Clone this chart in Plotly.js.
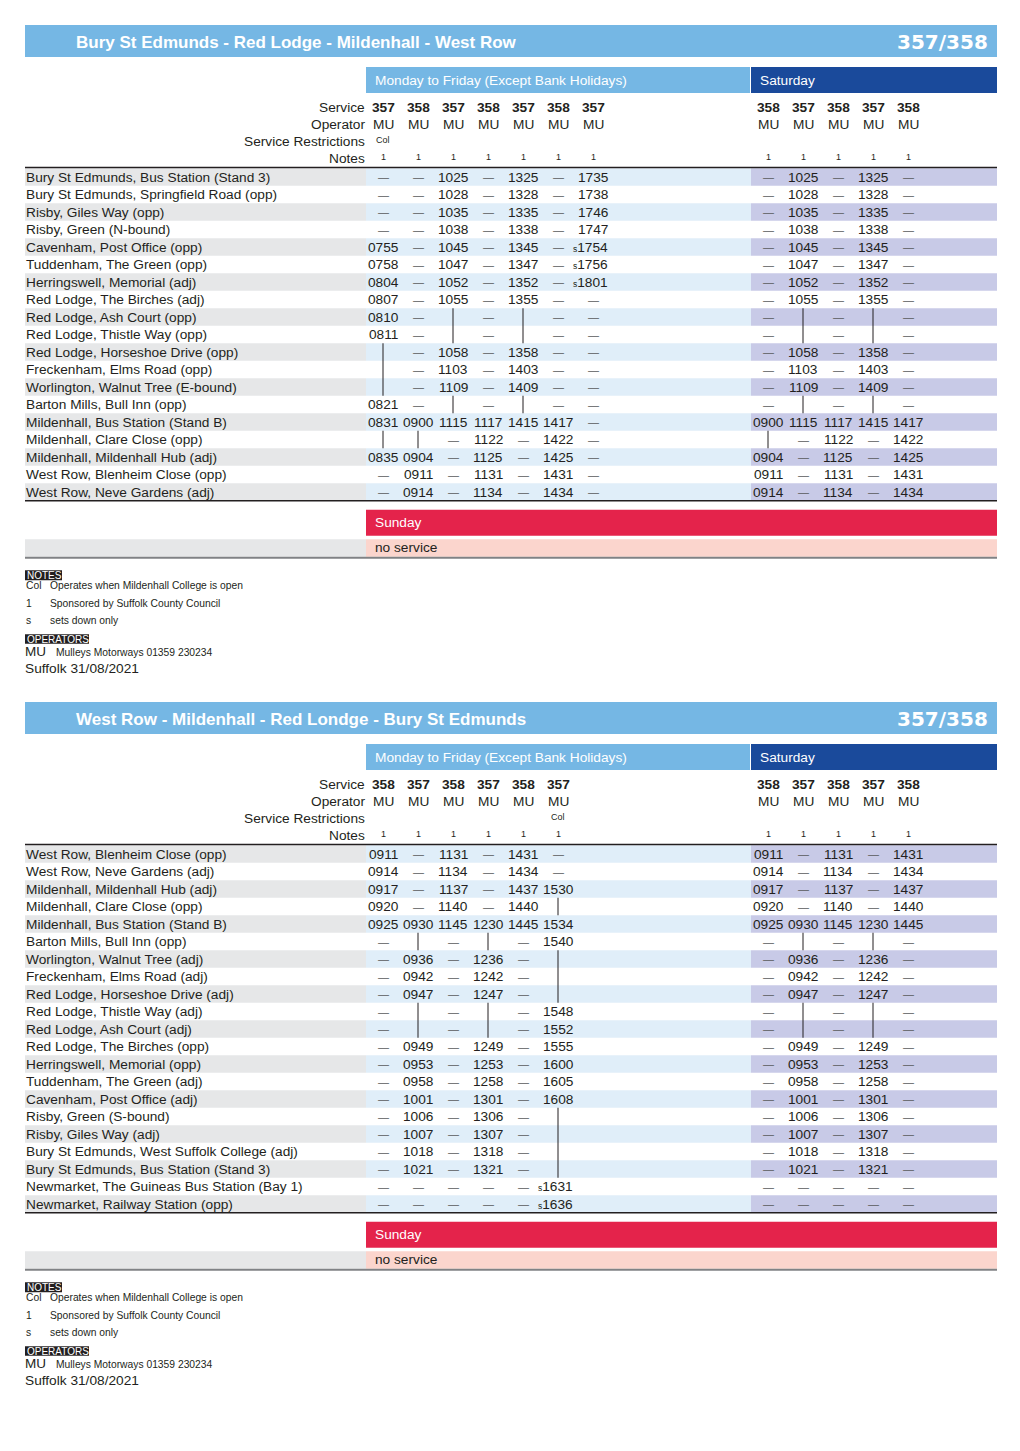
<!DOCTYPE html>
<html>
<head>
<meta charset="utf-8">
<script src="https://cdn.plot.ly/plotly-3.0.1.min.js"></script>
<style>html,body{margin:0;padding:0;background:#fff}</style>
</head>
<body>
<div id="tt" style="width:1020px;height:1451px"></div>
<script>
// ---- timetable data ----
const ROUTE = '357/358';
const DAY_MF = 'Monday to Friday (Except Bank Holidays)';
const DAY_SAT = 'Saturday';
const DAY_SUN = 'Sunday';
const SUN_TEXT = 'no service';
const HEAD_LABELS = ['Service', 'Operator', 'Service Restrictions', 'Notes'];

const outTitle = 'Bury St Edmunds - Red Lodge - Mildenhall - West Row';
const outStops = [
  'Bury St Edmunds, Bus Station (Stand 3)',
  'Bury St Edmunds, Springfield Road (opp)',
  'Risby, Giles Way (opp)',
  'Risby, Green (N-bound)',
  'Cavenham, Post Office (opp)',
  'Tuddenham, The Green (opp)',
  'Herringswell, Memorial (adj)',
  'Red Lodge, The Birches (adj)',
  'Red Lodge, Ash Court (opp)',
  'Red Lodge, Thistle Way (opp)',
  'Red Lodge, Horseshoe Drive (opp)',
  'Freckenham, Elms Road (opp)',
  'Worlington, Walnut Tree (E-bound)',
  'Barton Mills, Bull Inn (opp)',
  'Mildenhall, Bus Station (Stand B)',
  'Mildenhall, Clare Close (opp)',
  'Mildenhall, Mildenhall Hub (adj)',
  'West Row, Blenheim Close (opp)',
  'West Row, Neve Gardens (adj)'
];
const outMFService = ['357', '358', '357', '358', '357', '358', '357'];
const outMFOperator = ['MU', 'MU', 'MU', 'MU', 'MU', 'MU', 'MU'];
const outMFRestrict = ['Col', '', '', '', '', '', ''];
const outMFNotes = ['1', '1', '1', '1', '1', '1', '1'];
// '-' = does not serve, '|' = passes without stopping, 's' prefix = sets down only
const outMFTimes = [
  ['-', '-', '-', '-', '0755', '0758', '0804', '0807', '0810', '0811', '|', '|', '|', '0821', '0831', '|', '0835', '-', '-'],
  ['-', '-', '-', '-', '-', '-', '-', '-', '-', '-', '-', '-', '-', '-', '0900', '|', '0904', '0911', '0914'],
  ['1025', '1028', '1035', '1038', '1045', '1047', '1052', '1055', '|', '|', '1058', '1103', '1109', '|', '1115', '-', '-', '-', '-'],
  ['-', '-', '-', '-', '-', '-', '-', '-', '-', '-', '-', '-', '-', '-', '1117', '1122', '1125', '1131', '1134'],
  ['1325', '1328', '1335', '1338', '1345', '1347', '1352', '1355', '|', '|', '1358', '1403', '1409', '|', '1415', '-', '-', '-', '-'],
  ['-', '-', '-', '-', '-', '-', '-', '-', '-', '-', '-', '-', '-', '-', '1417', '1422', '1425', '1431', '1434'],
  ['1735', '1738', '1746', '1747', 's1754', 's1756', 's1801', '-', '-', '-', '-', '-', '-', '-', '-', '-', '-', '-', '-']
];
const outSatService = ['358', '357', '358', '357', '358'];
const outSatOperator = ['MU', 'MU', 'MU', 'MU', 'MU'];
const outSatRestrict = ['', '', '', '', ''];
const outSatNotes = ['1', '1', '1', '1', '1'];
const outSatTimes = [
  ['-', '-', '-', '-', '-', '-', '-', '-', '-', '-', '-', '-', '-', '-', '0900', '|', '0904', '0911', '0914'],
  ['1025', '1028', '1035', '1038', '1045', '1047', '1052', '1055', '|', '|', '1058', '1103', '1109', '|', '1115', '-', '-', '-', '-'],
  ['-', '-', '-', '-', '-', '-', '-', '-', '-', '-', '-', '-', '-', '-', '1117', '1122', '1125', '1131', '1134'],
  ['1325', '1328', '1335', '1338', '1345', '1347', '1352', '1355', '|', '|', '1358', '1403', '1409', '|', '1415', '-', '-', '-', '-'],
  ['-', '-', '-', '-', '-', '-', '-', '-', '-', '-', '-', '-', '-', '-', '1417', '1422', '1425', '1431', '1434']
];

const inTitle = 'West Row - Mildenhall - Red Londge - Bury St Edmunds';
const inStops = [
  'West Row, Blenheim Close (opp)',
  'West Row, Neve Gardens (adj)',
  'Mildenhall, Mildenhall Hub (adj)',
  'Mildenhall, Clare Close (opp)',
  'Mildenhall, Bus Station (Stand B)',
  'Barton Mills, Bull Inn (opp)',
  'Worlington, Walnut Tree (adj)',
  'Freckenham, Elms Road (adj)',
  'Red Lodge, Horseshoe Drive (adj)',
  'Red Lodge, Thistle Way (adj)',
  'Red Lodge, Ash Court (adj)',
  'Red Lodge, The Birches (opp)',
  'Herringswell, Memorial (opp)',
  'Tuddenham, The Green (adj)',
  'Cavenham, Post Office (adj)',
  'Risby, Green (S-bound)',
  'Risby, Giles Way (adj)',
  'Bury St Edmunds, West Suffolk College (adj)',
  'Bury St Edmunds, Bus Station (Stand 3)',
  'Newmarket, The Guineas Bus Station (Bay 1)',
  'Newmarket, Railway Station (opp)'
];
const inMFService = ['358', '357', '358', '357', '358', '357'];
const inMFOperator = ['MU', 'MU', 'MU', 'MU', 'MU', 'MU'];
const inMFRestrict = ['', '', '', '', '', 'Col'];
const inMFNotes = ['1', '1', '1', '1', '1', '1'];
const inMFTimes = [
  ['0911', '0914', '0917', '0920', '0925', '-', '-', '-', '-', '-', '-', '-', '-', '-', '-', '-', '-', '-', '-', '-', '-'],
  ['-', '-', '-', '-', '0930', '|', '0936', '0942', '0947', '|', '|', '0949', '0953', '0958', '1001', '1006', '1007', '1018', '1021', '-', '-'],
  ['1131', '1134', '1137', '1140', '1145', '-', '-', '-', '-', '-', '-', '-', '-', '-', '-', '-', '-', '-', '-', '-', '-'],
  ['-', '-', '-', '-', '1230', '|', '1236', '1242', '1247', '|', '|', '1249', '1253', '1258', '1301', '1306', '1307', '1318', '1321', '-', '-'],
  ['1431', '1434', '1437', '1440', '1445', '-', '-', '-', '-', '-', '-', '-', '-', '-', '-', '-', '-', '-', '-', '-', '-'],
  ['-', '-', '1530', '|', '1534', '1540', '|', '|', '|', '1548', '1552', '1555', '1600', '1605', '1608', '|', '|', '|', '|', 's1631', 's1636']
];
const inSatService = ['358', '357', '358', '357', '358'];
const inSatOperator = ['MU', 'MU', 'MU', 'MU', 'MU'];
const inSatRestrict = ['', '', '', '', ''];
const inSatNotes = ['1', '1', '1', '1', '1'];
const inSatTimes = [
  ['0911', '0914', '0917', '0920', '0925', '-', '-', '-', '-', '-', '-', '-', '-', '-', '-', '-', '-', '-', '-', '-', '-'],
  ['-', '-', '-', '-', '0930', '|', '0936', '0942', '0947', '|', '|', '0949', '0953', '0958', '1001', '1006', '1007', '1018', '1021', '-', '-'],
  ['1131', '1134', '1137', '1140', '1145', '-', '-', '-', '-', '-', '-', '-', '-', '-', '-', '-', '-', '-', '-', '-', '-'],
  ['-', '-', '-', '-', '1230', '|', '1236', '1242', '1247', '|', '|', '1249', '1253', '1258', '1301', '1306', '1307', '1318', '1321', '-', '-'],
  ['1431', '1434', '1437', '1440', '1445', '-', '-', '-', '-', '-', '-', '-', '-', '-', '-', '-', '-', '-', '-', '-', '-']
];

const noteCodes = ['Col', '1', 's'];
const noteTexts = ['Operates when Mildenhall College is open', 'Sponsored by Suffolk County Council', 'sets down only'];
const operatorCode = 'MU';
const operatorText = 'Mulleys Motorways 01359 230234';
const footer = 'Suffolk 31/08/2021';

// ---- drawing ----
const W = 1020, H = 1451;
const INK = '#231f20', DASH = '#5a5b5d', WHITE = '#ffffff';
const FONT = 'Liberation Sans, Arial, sans-serif';
const FS = 13.7;          // body text size
const ROW_H = 17.5;
const MF_COL0 = 383, SAT_COL0 = 768, COL_W = 35;

const shapes = [];
const annotations = [];
const lineX = [], lineY = [];

function rect(x0, y0, x1, y1, color) {
  shapes.push({type: 'rect', xref: 'x', yref: 'y', x0, y0, x1, y1,
    fillcolor: color, line: {width: 0}, layer: 'below'});
}
function hline(x0, x1, y, color, w) {
  shapes.push({type: 'line', xref: 'x', yref: 'y', x0, x1, y0: y, y1: y,
    line: {color, width: w}});
}
function label(x, y, text, size, opts) {
  opts = opts || {};
  annotations.push({
    x, y, xref: 'x', yref: 'y', text, showarrow: false,
    xanchor: opts.xanchor || 'left', yanchor: 'middle', borderpad: 0,
    font: {family: opts.family || FONT, size, color: opts.color || INK}
  });
}

function drawColumns(off, colX0, service, operator, restrict, notes, times) {
  service.forEach((s, j) => {
    const x = colX0 + j * COL_W;
    label(x, off + 107, '<b>' + s + '</b>', FS, {xanchor: 'center'});
    label(x, off + 124, operator[j], FS, {xanchor: 'center'});
    if (restrict[j]) label(x, off + 140, restrict[j], 9, {xanchor: 'center'});
    label(x, off + 157, notes[j], 9, {xanchor: 'center'});
    const col = times[j];
    let runStart = -1;
    col.forEach((v, i) => {
      const y = off + 177 + i * ROW_H;
      if (v === '|') {
        if (runStart < 0) runStart = i;
      }
      if (runStart >= 0 && (v !== '|' || i === col.length - 1)) {
        const end = v === '|' ? i : i - 1;
        lineX.push(x, x, null);
        lineY.push(off + 177 + runStart * ROW_H - ROW_H / 2, off + 177 + end * ROW_H + ROW_H / 2, null);
        runStart = -1;
      }
      if (v === '-') {
        label(x, y, '\u2014', 11, {xanchor: 'center', color: DASH});
      } else if (v.charAt(0) === 's') {
        label(x + 15.5, y, '<span style="font-size:8.5px">s</span>' + v.slice(1), FS, {xanchor: 'right'});
      } else if (v !== '|') {
        label(x, y, v, FS, {xanchor: 'center'});
      }
    });
  });
}

function drawSection(off, title, stops, mf, sat) {
  const n = stops.length;
  // title bar
  rect(25, off + 25, 997, off + 57, '#75b7e4');
  label(75, off + 42, '<b>' + title + '</b>', 17, {color: WHITE});
  label(989, off + 42, '<b>' + ROUTE + '</b>', 20, {xanchor: 'right', color: WHITE, family: 'DejaVu Sans, sans-serif'});
  // day headers
  rect(366, off + 67, 750, off + 93, '#75b7e4');
  rect(751, off + 67, 997, off + 93, '#1a4a9b');
  label(374, off + 80, DAY_MF, FS, {color: WHITE});
  label(759, off + 80, DAY_SAT, FS, {color: WHITE});
  HEAD_LABELS.forEach((t, k) => label(366, off + 107 + k * 17, t, FS, {xanchor: 'right'}));
  hline(25, 997, off + 167.5, INK, 1.5);
  // row shading and stop names
  stops.forEach((s, i) => {
    const y = off + 177 + i * ROW_H;
    if (i % 2 === 0) {
      rect(25, y - ROW_H / 2, 366, y + ROW_H / 2, '#e6e7e8');
      rect(366, y - ROW_H / 2, 751, y + ROW_H / 2, '#e0eef9');
      rect(751, y - ROW_H / 2, 997, y + ROW_H / 2, '#c8cae7');
    }
    label(24.5, y, s, FS);
  });
  drawColumns(off, MF_COL0, mf.service, mf.operator, mf.restrict, mf.notes, mf.times);
  drawColumns(off, SAT_COL0, sat.service, sat.operator, sat.restrict, sat.notes, sat.times);
  const bot = off + 177 + (n - 1) * ROW_H + ROW_H / 2;
  hline(25, 997, bot, INK, 1.5);
  // Sunday
  rect(366, bot + 9, 997, bot + 35, '#e4234b');
  label(374, bot + 22, DAY_SUN, FS, {color: WHITE});
  rect(25, bot + 38.5, 366, bot + 56, '#e6e7e8');
  rect(366, bot + 38.5, 997, bot + 56, '#fbd5cd');
  label(374, bot + 47, SUN_TEXT, FS);
  hline(25, 997, bot + 57, '#808285', 2);
  // notes
  rect(25, bot + 69.5, 62, bot + 79.5, INK);
  label(25.5, bot + 74.8, 'NOTES', 10, {color: WHITE});
  noteCodes.forEach((c, k) => {
    const y = bot + 85 + k * 17.5;
    label(25, y, c, 10.3);
    label(49, y, noteTexts[k], 10.3);
  });
  rect(25, bot + 133.5, 89, bot + 143, INK);
  label(25.5, bot + 138.3, 'OPERATORS', 10, {color: WHITE});
  label(24, bot + 151, operatorCode, 13.5);
  label(55, bot + 152, operatorText, 10.3);
  label(24, bot + 168, footer, FS);
}

drawSection(0, outTitle, outStops,
  {service: outMFService, operator: outMFOperator, restrict: outMFRestrict, notes: outMFNotes, times: outMFTimes},
  {service: outSatService, operator: outSatOperator, restrict: outSatRestrict, notes: outSatNotes, times: outSatTimes});
drawSection(677, inTitle, inStops,
  {service: inMFService, operator: inMFOperator, restrict: inMFRestrict, notes: inMFNotes, times: inMFTimes},
  {service: inSatService, operator: inSatOperator, restrict: inSatRestrict, notes: inSatNotes, times: inSatTimes});

const passLines = {
  x: lineX, y: lineY, mode: 'lines', type: 'scatter',
  line: {color: INK, width: 1}, hoverinfo: 'skip', connectgaps: false
};

Plotly.newPlot('tt', [passLines], {
  width: W, height: H,
  margin: {l: 0, r: 0, t: 0, b: 0, pad: 0},
  paper_bgcolor: '#ffffff', plot_bgcolor: '#ffffff',
  xaxis: {range: [0, W], visible: false, fixedrange: true},
  yaxis: {range: [H, 0], visible: false, fixedrange: true},
  showlegend: false,
  shapes: shapes,
  annotations: annotations
}, {staticPlot: true});
</script>
</body>
</html>
